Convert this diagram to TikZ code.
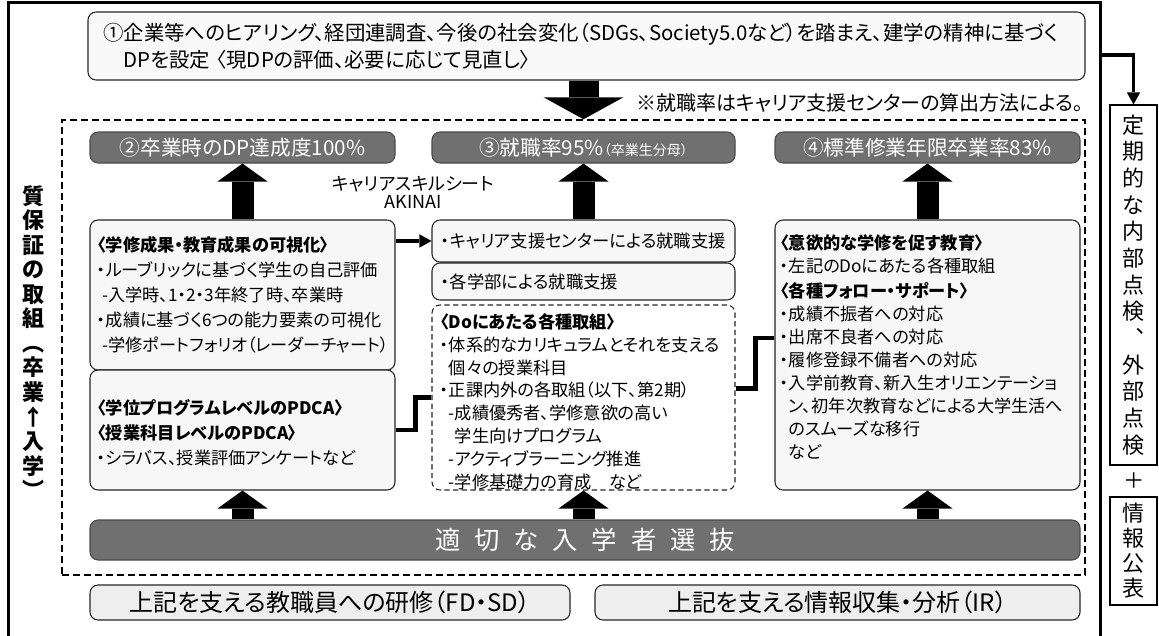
\documentclass[tikz,border=0pt]{standalone}
\usepackage{fontspec}
\setmainfont{Noto Sans CJK JP}[RawFeature={+palt}]
\usetikzlibrary{arrows.meta,fit}
\definecolor{gfill}{HTML}{707070}
\definecolor{gline}{HTML}{4A4A4A}
\definecolor{lfill}{HTML}{F7F7F7}
\definecolor{bfill}{HTML}{EEEEEE}
\begin{document}
\begin{tikzpicture}[x=0.75pt,y=-0.75pt,
  box/.style={draw=black!85,line width=0.8pt,rounded corners=6pt,fill=lfill,inner sep=0pt},
  dbox/.style={draw=black!85,line width=0.8pt,rounded corners=6pt,fill=white,inner sep=0pt,dash pattern=on 4pt off 2.5pt},
  gbox/.style={draw=gline,line width=0.8pt,rounded corners=6pt,fill=gfill,inner sep=0pt},
  fbox/.style={draw=black!85,line width=0.8pt,rounded corners=6pt,fill=bfill,inner sep=0pt},
  vbox/.style={draw=black,line width=0.8pt,fill=white,inner sep=0pt},
  dframe/.style={draw=black,line width=1.1pt,dash pattern=on 5.25pt off 3pt,inner sep=0pt},
  txt/.style={anchor=north west,align=left,inner sep=0pt,font=\fontsize{12.9}{17.2}\selectfont},
  gtxt/.style={text=white,inner sep=0pt,font=\fontsize{15.5}{18}\selectfont},
  fat/.style={line width=16.5pt,-{Triangle[width=37.5pt,length=13.5pt,line width=0pt]}},
  bigfat/.style={line width=22.5pt,-{Triangle[width=60pt,length=16.5pt,line width=0pt]}},
  conn/.style={line width=2.4pt,-{Triangle[width=10pt,length=9pt,line width=0pt]}},
  elbow/.style={line width=3.6pt,line join=miter}]
\fill[white] (0,0) rectangle (1159,635);
\useasboundingbox (0,0) rectangle (1159,635);
% outer frame
\draw[line width=2.25pt,line join=miter] (8,640) -- (8,3) -- (1100,3) -- (1100,640);
\coordinate (fr) at (1100,55);
% top box
\node[box,fill=lfill!70!white,fit={(88,12)(1085,80)}] (T) {};
\node[txt,font=\fontsize{15.3}{20.25}\selectfont] (Tt) at (103,22.5) {①企業等へのヒアリング、経団連調査、今後の社会変化（SDGs、Society5.0など）を踏まえ、建学の精神に基づく\\\phantom{①}DPを設定\hspace{0.3em}〈現DPの評価、必要に応じて見直し〉};
% dashed frame
\node[dframe,fit={(62,120)(1085,575)}] (DF) {};
\node[anchor=east,inner sep=0pt,font=\fontsize{15}{17}\selectfont] (note) at (1084,103) {※就職率はキャリア支援センターの算出方法による。};
% goal boxes
\node[gbox,fit={(90,132)(395,163)}] (G2) {};
\node[gbox,fit={(432,132)(735,163)}] (G3) {};
\node[gbox,fit={(775,132)(1080,163)}] (G4) {};
\node[gtxt] at (G2) {②卒業時のDP達成度100\%};
\node[gtxt] at (G3) {③就職率95\%{\fontsize{10.5}{12}\selectfont（卒業生分母）}};
\node[gtxt] at (G4) {④標準修業年限卒業率83\%};
\draw[bigfat] (T.south -| G3) -- (DF.north -| G3);
\node[align=center,inner sep=0pt,font=\fontsize{13.5}{13.5}\selectfont] (ks) at (413,192) {キャリアスキルシート\\AKINAI};
% content boxes
\node[box,fit={(90,220)(395,370)}] (L1) {};
\node[box,fit={(90,370)(395,490)}] (L2) {};
\node[box,fit={(432,220)(735,262)}] (M1) {};
\node[box,fit={(432,263)(735,300)}] (M2) {};
\node[dbox,fit={(432,305)(735,490)}] (D) {};
\node[box,fit={(775,220)(1080,490)}] (R) {};
\node[txt,font=\fontsize{12.9}{18.75}\selectfont] (L1t) at (97,236) {\textbf{〈学修成果・教育成果の可視化〉}\\・ルーブリックに基づく学生の自己評価\\\hspace*{0.3em}-入学時、1・2・3年終了時、卒業時\\・成績に基づく6つの能力要素の可視化\\\hspace*{0.3em}-学修ポートフォリオ（レーダーチャート）};
\node[txt,font=\fontsize{12.9}{18.75}\selectfont] (L2t) at (97,399) {\textbf{〈学位プログラムレベルのPDCA〉}\\\textbf{〈授業科目レベルのPDCA〉}\\・シラバス、授業評価アンケートなど};
\node[inner sep=0pt,font=\fontsize{13}{15}\selectfont] (M1t) at (M1) {・キャリア支援センターによる就職支援};
\node[anchor=west,inner sep=0pt,font=\fontsize{13}{15}\selectfont] (M2t) at (441,281.5) {・各学部による就職支援};
\node[txt] (Dt) at (440,313) {\textbf{〈Doにあたる各種取組〉}\\・体系的なカリキュラムとそれを支える\\\phantom{・}個々の授業科目\\・正課内外の各取組（以下、第2期）\\\phantom{・}-成績優秀者、学修意欲の高い\\\phantom{・-}学生向けプログラム\\\phantom{・}-アクティブラーニング推進\\\phantom{・}-学修基礎力の育成\hspace{1em}など};
\node[txt] (Rt) at (780,234) {\textbf{〈意欲的な学修を促す教育〉}\\・左記のDoにあたる各種取組\\[2pt]\textbf{〈各種フォロー・サポート〉}\\・成績不振者への対応\\・出席不良者への対応\\・履修登録不備者への対応\\・入学前教育、新入生オリエンテーショ\\\phantom{・}ン、初年次教育などによる大学生活へ\\\phantom{・}のスムーズな移行\\\phantom{・}など};
% arrows up to goals
\draw[fat] (L1.north) -- (G2.south);
\draw[fat] (M1.north) -- (G3.south);
\draw[fat] (R.north) -- (G4.south);
% connectors
\draw[conn] (L1.east |- M1.west) -- (M1.west);
\draw[elbow] (L2.east) -- ++(15pt,0) |- (D.west);
\draw[elbow] ([yshift=7pt]D.east) -- ++(15pt,0) |- ([yshift=12.75pt]R.west);
% admission bar
\node[gbox,fit={(90,520)(1080,560)}] (B) {};
\node[text=white,inner sep=0pt,font=\fontsize{19}{20}\selectfont] (Bt) at (B) {適\hspace{0.55em}切\hspace{0.55em}な\hspace{0.55em}入\hspace{0.55em}学\hspace{0.55em}者\hspace{0.55em}選\hspace{0.55em}抜};
\draw[fat] (B.north -| L2) -- (L2.south);
\draw[fat] (B.north -| D) -- (D.south);
\draw[fat] (B.north -| R) -- (R.south);
% bottom boxes
\node[fbox,fit={(90,585)(570,620)}] (F1) {};
\node[fbox,fit={(595,585)(1080,620)}] (F2) {};
\node[inner sep=0pt,font=\fontsize{18}{20}\selectfont] (F1t) at (F1) {上記を支える教職員への研修（FD・SD）};
\node[inner sep=0pt,font=\fontsize{18}{20}\selectfont] (F2t) at (F2) {上記を支える情報収集・分析（IR）};
% left vertical title
\node[align=center,inner sep=0pt,font=\bfseries\fontsize{16.5}{18.4}\selectfont] (LV) at (33,342) {質\\保\\証\\の\\取\\組\\︵\\卒\\業\\↑\\入\\学\\︶};
% right column
\node[vbox,fit={(1110,105)(1157,465)}] (RB) {};
\node[vbox,fit={(1110,497)(1157,605)}] (IB) {};
\node[align=center,inner sep=0pt,font=\fontsize{16.5}{20}\selectfont] (RBt) at (RB) {定\\期\\的\\な\\内\\部\\点\\検\\︑\\外\\部\\点\\検};
\node[inner sep=0pt,font=\fontsize{16}{18}\selectfont] (plus) at (1134,481) {＋};
\node[align=center,inner sep=0pt,font=\fontsize{16.5}{18.75}\selectfont] (IBt) at (IB) {情\\報\\公\\表};
\draw[conn] (fr) -| (RB.north);
\end{tikzpicture}
\end{document}
